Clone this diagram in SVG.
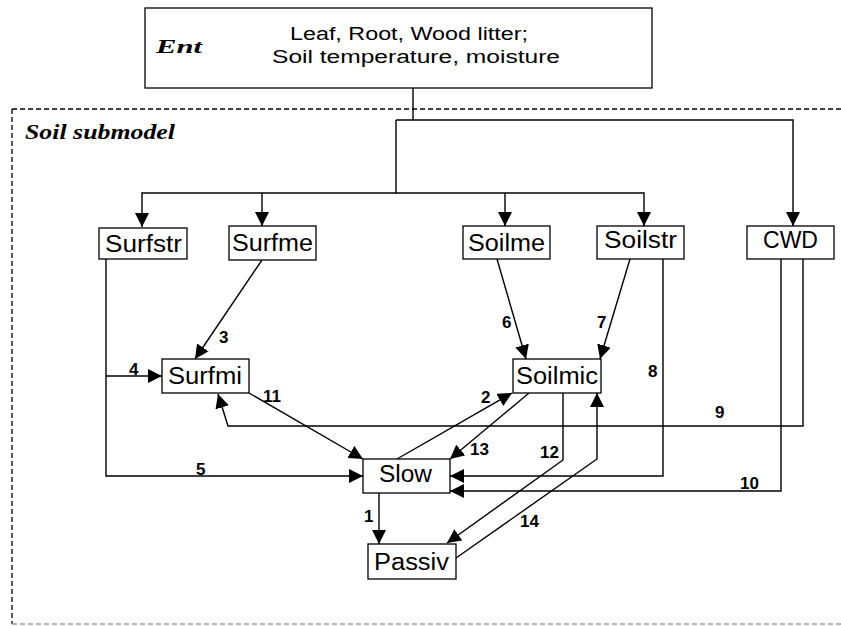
<svg xmlns="http://www.w3.org/2000/svg" width="841" height="626" viewBox="0 0 841 626">
<style>
.box{fill:#fff;stroke:#000;stroke-width:1.3}
.nt{font-family:"Liberation Sans",Arial,sans-serif;font-size:23px;fill:#000}
.lb{font-family:"Liberation Sans",Arial,sans-serif;font-size:17px;font-weight:bold;fill:#000}
.ti{font-family:"Liberation Serif","Times New Roman",serif;font-weight:bold;font-style:italic;fill:#000}
.c{fill:none;stroke:#000;stroke-width:1.4}
.ca{fill:none;stroke:#000;stroke-width:1.4;marker-end:url(#ah)}
</style>
<defs>
<marker id="ah" markerUnits="userSpaceOnUse" markerWidth="16" markerHeight="16" refX="14" refY="7" orient="auto">
<path d="M0,0 L14,7 L0,14 z" fill="#000"/>
</marker>
</defs>
<rect width="841" height="626" fill="#fff"/>
<g id="submodel">
<path d="M12,109 H841" fill="none" stroke="#000" stroke-width="1.3" stroke-dasharray="5,3"/>
<path d="M12,109 V624" fill="none" stroke="#000" stroke-width="1.3" stroke-dasharray="5,3"/>
<path d="M12,624 H841" fill="none" stroke="#999" stroke-width="1.3" stroke-dasharray="5,3"/>
<text class="ti" x="25" y="139" font-size="22" textLength="150" lengthAdjust="spacingAndGlyphs">Soil submodel</text>
</g>
<g id="ent">
<rect class="box" x="145" y="8" width="507" height="80" stroke-width="1.6"/>
<text class="ti" x="156" y="53" font-size="19" textLength="46" lengthAdjust="spacingAndGlyphs">Ent</text>
<text x="290" y="40" font-family="Liberation Sans, Arial, sans-serif" font-size="18" textLength="238" lengthAdjust="spacingAndGlyphs">Leaf, Root, Wood litter;</text>
<text x="272" y="63" font-family="Liberation Sans, Arial, sans-serif" font-size="18" textLength="288" lengthAdjust="spacingAndGlyphs">Soil temperature, moisture</text>
</g>
<g id="connectors">
<path class="c" d="M413,88 V120"/>
<path class="ca" d="M396,120 H793 V226"/>
<path class="ca" d="M396,120 V193 H142 V227"/>
<path class="ca" d="M262,193 V226"/>
<path class="ca" d="M396,193 H644 V226"/>
<path class="ca" d="M505,193 V226"/>
<path class="ca" d="M106,259 V476 H363"/>
<path class="ca" d="M106,376 H162"/>
<path class="ca" d="M262,260 L195,359"/>
<path class="ca" d="M249,393 L363,459"/>
<path class="ca" d="M803,259 V426 H228 L218,394"/>
<path class="ca" d="M781,259 V491 H450"/>
<path class="ca" d="M663,259 V476 H450"/>
<path class="ca" d="M497,259 L526,359"/>
<path class="ca" d="M630,259 L600,359"/>
<path class="ca" d="M397,459 L512,393"/>
<path class="ca" d="M529,393 L450,459"/>
<path class="ca" d="M563,393 V460 L447,543"/>
<path class="ca" d="M456,558 L597,459 V393"/>
<path class="ca" d="M379,493 V544"/>
<text class="lb" x="364" y="522">1</text>
<text class="lb" x="481" y="403">2</text>
<text class="lb" x="219" y="343">3</text>
<text class="lb" x="129" y="375">4</text>
<text class="lb" x="196" y="475">5</text>
<text class="lb" x="502" y="328">6</text>
<text class="lb" x="597" y="328">7</text>
<text class="lb" x="648" y="377">8</text>
<text class="lb" x="715" y="418">9</text>
<text class="lb" x="740" y="489">10</text>
<text class="lb" x="263" y="402">11</text>
<text class="lb" x="540" y="458">12</text>
<text class="lb" x="470" y="455">13</text>
<text class="lb" x="520" y="527">14</text>
</g>
<g id="surfstr"><rect class="box" x="99" y="228" width="88" height="31"/><text class="nt" x="105" y="252" textLength="77" lengthAdjust="spacingAndGlyphs">Surfstr</text></g>
<g id="surfme"><rect class="box" x="229" y="226" width="87" height="34"/><text class="nt" x="232" y="251" textLength="81" lengthAdjust="spacingAndGlyphs">Surfme</text></g>
<g id="soilme"><rect class="box" x="463" y="226" width="87" height="33"/><text class="nt" x="468" y="251" textLength="77" lengthAdjust="spacingAndGlyphs">Soilme</text></g>
<g id="soilstr"><rect class="box" x="597" y="226" width="87" height="33"/><text class="nt" x="604" y="248" textLength="73" lengthAdjust="spacingAndGlyphs">Soilstr</text></g>
<g id="cwd"><rect class="box" x="747" y="226" width="87" height="33"/><text class="nt" x="763" y="248" textLength="55" lengthAdjust="spacingAndGlyphs">CWD</text></g>
<g id="surfmi"><rect class="box" x="162" y="359" width="87" height="34"/><text class="nt" x="168" y="384" textLength="74" lengthAdjust="spacingAndGlyphs">Surfmi</text></g>
<g id="soilmic"><rect class="box" x="513" y="359" width="88" height="34"/><text class="nt" x="516" y="384" textLength="82" lengthAdjust="spacingAndGlyphs">Soilmic</text></g>
<g id="slow"><rect class="box" x="363" y="459" width="87" height="34"/><text class="nt" x="379" y="482" textLength="53" lengthAdjust="spacingAndGlyphs">Slow</text></g>
<g id="passiv"><rect class="box" x="368" y="544" width="88" height="35"/><text class="nt" x="374" y="570" textLength="75" lengthAdjust="spacingAndGlyphs">Passiv</text></g>
</svg>
